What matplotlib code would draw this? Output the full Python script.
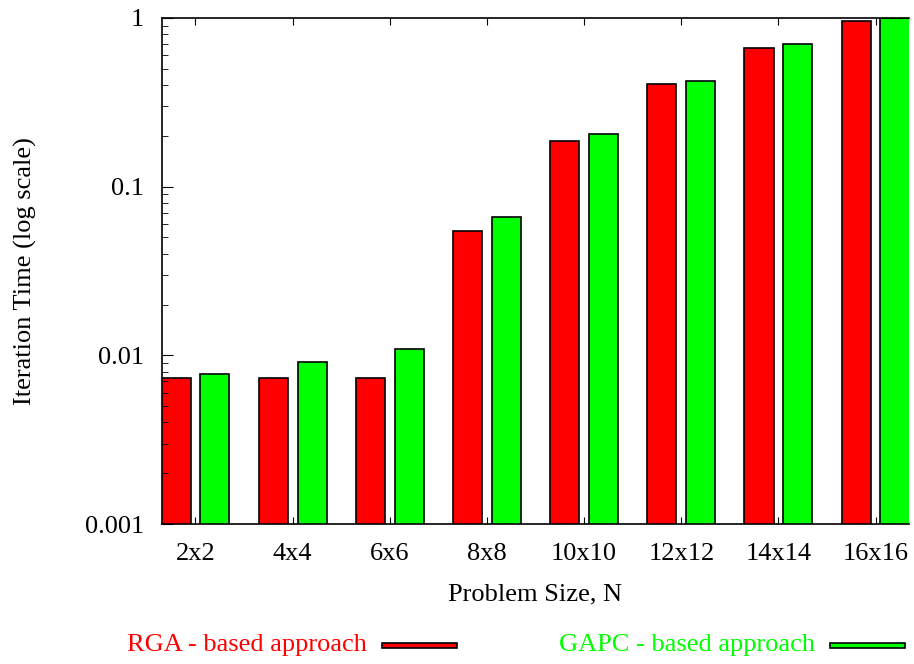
import numpy as np
import matplotlib.pyplot as plt
from matplotlib.patches import Rectangle

sizes = ["2x2", "4x4", "6x6", "8x8", "10x10", "12x12", "14x14", "16x16"]
rga_time = [0.0073, 0.0073, 0.0073, 0.0548, 0.187, 0.404, 0.665, 0.957]
gapc_time = [0.0077, 0.0091, 0.0109, 0.0664, 0.206, 0.425, 0.70, 1.0]

plt.rcParams['font.family'] = ['Liberation Serif', 'DejaVu Serif']
plt.rcParams['font.size'] = 19

fig = plt.figure(figsize=(9.14, 6.64), dpi=100)
ax = fig.add_axes([0.1772, 0.2108, 0.8175, 0.7621])

x = np.arange(len(sizes))
w = 0.3
ax.bar(x - 0.2, rga_time, w, color='#ff0000', edgecolor='black', linewidth=1.2)
ax.bar(x + 0.2, gapc_time, w, color='#00ff00', edgecolor='black', linewidth=1.2)

ax.set_yscale('log')
ax.set_ylim(0.001, 1)
ax.set_xlim(-0.345, 7.345)
ax.set_yticks([0.001, 0.01, 0.1, 1])
ax.set_yticklabels(["0.001", "0.01", "0.1", "1"])
ax.set_xticks(x)
ax.set_xticklabels(sizes)
ax.tick_params(axis='both', which='both', direction='in', top=True)
ax.tick_params(axis='y', which='major', length=8, pad=13)
ax.tick_params(axis='y', which='minor', length=4.5)
ax.tick_params(axis='x', which='major', length=5, pad=14)
ax.spines['right'].set_visible(False)
for s in ['left', 'top', 'bottom']:
    ax.spines[s].set_linewidth(1.2)

ax.set_xlabel("Problem Size, N", labelpad=13)
ax.set_ylabel("Iteration Time (log scale)", labelpad=34)

# legend along the bottom, gnuplot style
fig.text(367 / 914, 1 - 645 / 664, "RGA - based approach", color='#ff0000',
         ha='right', va='center')
fig.patches.append(Rectangle((382 / 914, 1 - 648 / 664), 75 / 914, 5 / 664,
                             transform=fig.transFigure, facecolor='#ff0000',
                             edgecolor='black', linewidth=1.2))
fig.text(815 / 914, 1 - 645 / 664, "GAPC - based approach", color='#00ff00',
         ha='right', va='center')
fig.patches.append(Rectangle((830 / 914, 1 - 648 / 664), 75 / 914, 5 / 664,
                             transform=fig.transFigure, facecolor='#00ff00',
                             edgecolor='black', linewidth=1.2))

fig.savefig("out.png", dpi=100)
